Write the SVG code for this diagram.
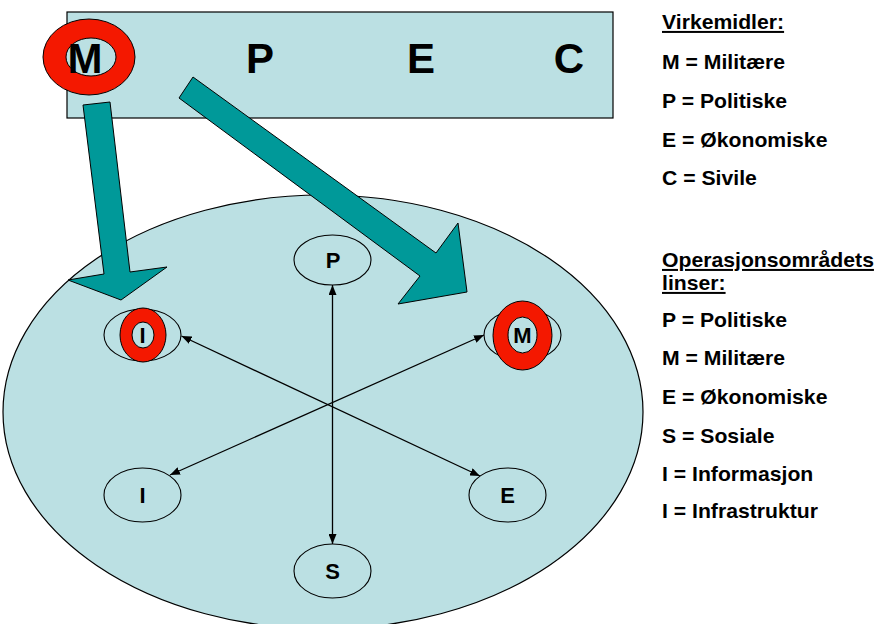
<svg xmlns="http://www.w3.org/2000/svg" width="877" height="624" viewBox="0 0 877 624">
<style>
.bg{fill:#BBE0E3;stroke:#000;stroke-width:1.2}
.node{fill:none;stroke:#000;stroke-width:1.1}
.ring{fill:#F41800;stroke:#000;stroke-width:1}
.hole{fill:#BBE0E3;stroke:#000;stroke-width:1}
.blk{fill:#009999;stroke:#000;stroke-width:1}
.conn{stroke:#000;stroke-width:1.3;fill:none;marker-start:url(#ah);marker-end:url(#ah)}
text{font-family:"Liberation Sans",Arial,sans-serif;font-weight:bold;fill:#000}
.big{font-size:42px;text-anchor:middle}
.nl{font-size:22px;text-anchor:middle}
.leg{font-size:20px}
</style>
<defs>
<marker id="ah" markerUnits="userSpaceOnUse" markerWidth="10" markerHeight="8" refX="10" refY="4" orient="auto-start-reverse" viewBox="0 0 10 8">
<path d="M0,0 L10,4 L0,8 z" fill="#000"/>
</marker>
</defs>
<rect width="877" height="624" fill="#fff"/>

<g id="virkemidler-box">
<rect class="bg" x="67" y="12" width="546" height="106"/>
<ellipse class="ring" cx="89" cy="57" rx="46" ry="38"/>
<ellipse class="hole" cx="91" cy="57" rx="25" ry="19"/>
<text class="big" x="85" y="73">M</text>
<text class="big" x="260" y="73">P</text>
<text class="big" x="421" y="73">E</text>
<text class="big" x="569" y="73">C</text>
</g>

<g id="operasjonsomrade">
<ellipse class="bg" cx="323" cy="412" rx="320" ry="217"/>
</g>

<g id="node-P">
<ellipse class="node" cx="332.5" cy="260" rx="38.5" ry="25"/>
<text class="nl" x="333" y="268">P</text>
</g>
<g id="node-I-top">
<ellipse class="node" cx="142.5" cy="335" rx="38.5" ry="26"/>
<ellipse class="ring" cx="143" cy="335" rx="23" ry="27"/>
<ellipse class="hole" cx="143" cy="335" rx="11" ry="13"/>
<text class="nl" x="142.5" y="343">I</text>
</g>
<g id="node-M">
<ellipse class="node" cx="522.5" cy="335" rx="38.5" ry="26"/>
<ellipse class="ring" cx="522.5" cy="335.5" rx="29.5" ry="34.5"/>
<ellipse class="hole" cx="522.5" cy="335" rx="14.5" ry="18"/>
<text class="nl" x="522.5" y="343">M</text>
</g>
<g id="node-I-bottom">
<ellipse class="node" cx="142.5" cy="495" rx="38.5" ry="27"/>
<text class="nl" x="142.5" y="503">I</text>
</g>
<g id="node-E">
<ellipse class="node" cx="507.5" cy="495" rx="38.5" ry="27"/>
<text class="nl" x="507.5" y="503">E</text>
</g>
<g id="node-S">
<ellipse class="node" cx="332.5" cy="571" rx="38.5" ry="27"/>
<text class="nl" x="332.5" y="579">S</text>
</g>

<g id="connectors">
<line class="conn" x1="332.5" y1="285" x2="332.5" y2="544"/>
<line class="conn" x1="181.5" y1="336" x2="480" y2="476"/>
<line class="conn" x1="484" y1="335" x2="170" y2="475"/>
</g>

<g id="block-arrows">
<polygon class="blk" points="83,105 110,102 130,272 167,267 121,300 68,280 104,274"/>
<polygon class="blk" points="193,77 436,253 458,223 467,292 398,304 420,276 179,98"/>
</g>

<g id="legend" transform="translate(662,0) scale(1.06,1)">
<text class="leg" x="0" y="29" text-decoration="underline">Virkemidler:</text>
<text class="leg" x="0" y="69">M = Militære</text>
<text class="leg" x="0" y="108">P = Politiske</text>
<text class="leg" x="0" y="147">E = Økonomiske</text>
<text class="leg" x="0" y="185">C = Sivile</text>
<text class="leg" x="0" y="267" text-decoration="underline">Operasjonsområdets</text>
<text class="leg" x="0" y="290" text-decoration="underline">linser:</text>
<text class="leg" x="0" y="327">P = Politiske</text>
<text class="leg" x="0" y="365">M = Militære</text>
<text class="leg" x="0" y="404">E = Økonomiske</text>
<text class="leg" x="0" y="443">S = Sosiale</text>
<text class="leg" x="0" y="481">I = Informasjon</text>
<text class="leg" x="0" y="518">I = Infrastruktur</text>
</g>
</svg>
